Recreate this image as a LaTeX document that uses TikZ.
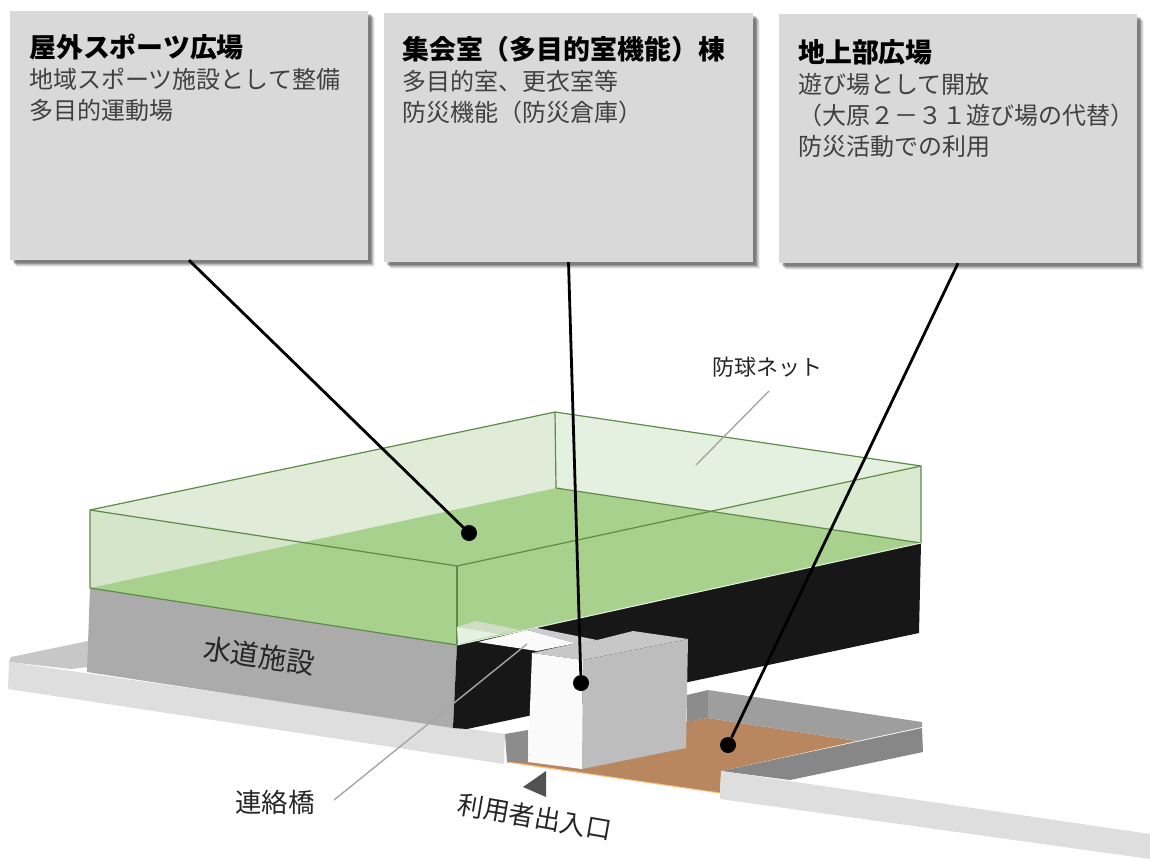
\documentclass[tikz,border=0pt]{standalone}
\usepackage{fontspec}
\setmainfont{Noto Sans CJK JP}
\usetikzlibrary{shadows}
\definecolor{panelgray}{HTML}{D9D9D9}
\definecolor{floorgreen}{HTML}{A9D18E}
\definecolor{netedge}{HTML}{5F8A4A}
\definecolor{netback}{HTML}{E5F1E0}
\definecolor{netside}{HTML}{E0EBD8}
\definecolor{plazabrown}{HTML}{B8875F}
\tikzset{
	panel/.style={fill=panelgray, minimum width=#1, minimum height=249pt, inner sep=0pt,
		general shadow={shadow xshift=7pt, shadow yshift=-7pt, fill=black, opacity=0.06},
		general shadow={shadow xshift=6pt, shadow yshift=-6pt, fill=black, opacity=0.10},
		general shadow={shadow xshift=5pt, shadow yshift=-5pt, fill=black, opacity=0.14},
		general shadow={shadow xshift=4pt, shadow yshift=-4pt, fill=black, opacity=0.18},
		general shadow={shadow xshift=3pt, shadow yshift=-3pt, fill=black, opacity=0.18}},
	paneltext/.style={anchor=north west, inner sep=0pt, align=left, text=black!75,
		font=\fontsize{24}{31}\selectfont},
	spot/.style={circle, fill=black, inner sep=0pt, minimum size=16pt},
	callout/.style={line width=2.8pt, color=black},
	leader/.style={line width=1.4pt, color=black!35},
	netline/.style={line width=1.2pt, color=netedge, line join=round},
	plainlabel/.style={inner sep=0pt, text=black!85}
}
\newcommand{\paneltitle}[1]{{\fontsize{26.9}{31}\selectfont\bfseries\color{black}#1}}
\begin{document}
\begin{tikzpicture}[x=1pt, y=-1pt]
	%%%%% START %%%%%
	\useasboundingbox (0, 0) rectangle (1150, 859);

	% panels
	\node[panel=358pt] (sportspanel) at (189, 135.5) {};
	\node[panel=369pt] (hallpanel) at (568.5, 137.5) {};
	\node[panel=358pt] (plazapanel) at (958, 138.5) {};
	\node[paneltext] at (29, 34) {\paneltitle{屋外スポーツ広場}\\地域スポーツ施設として整備\\多目的運動場};
	\node[paneltext] at (402, 36) {\paneltitle{集会室（多目的室機能）棟}\\多目的室、更衣室等\\防災機能（防災倉庫）};
	\node[paneltext] at (798, 39) {\paneltitle{地上部広場}\\遊び場として開放\\（大原２－３１遊び場の代替）\\防災活動での利用};

	% curbs round the site
	\fill[black!22] (11, 657) -- (88, 641) -- (88, 667) -- (71, 669) -- (9, 662) -- cycle;
	\fill[black!13] (9, 662) -- (505, 734) -- (504, 764) -- (8, 689) -- cycle;

	% water facility
	\fill[black!33] (90, 588) -- (457, 645) -- (453, 728) -- (87, 672) -- cycle;
	\fill[black!91] (457, 645) -- (921, 543) -- (919, 633) -- (467, 729) -- (453, 728) -- cycle;

	% sunken plaza
	\fill[plazabrown] (507, 762) -- (540, 750) -- (640, 730) -- (708, 718) -- (857, 741) -- (721, 771) -- (720, 793) -- cycle;
	\draw[line width=1pt, color=orange!50] (507, 762) -- (720, 793);
	\fill[black!45] (505, 734) -- (528, 730) -- (528, 762) -- (507, 762) -- cycle;
	\fill[black!45] (687, 695) -- (708, 690) -- (708, 718) -- (687, 722) -- cycle;
	\fill[black!38] (708, 690) -- (922, 722) -- (922, 727) -- (857, 741) -- (708, 718) -- cycle;
	\fill[black!47] (922, 728) -- (923, 752) -- (790, 780) -- (721, 771) -- cycle;
	\fill[black!13] (721, 771) -- (1150, 834) -- (1150, 859) -- (720, 799) -- cycle;

	% sports ground and ball net
	\fill[netside] (90, 510) -- (555, 412) -- (556, 488) -- (90, 588) -- cycle;
	\fill[netback] (555, 412) -- (921, 466) -- (921, 543) -- (556, 488) -- cycle;
	\fill[floorgreen] (90, 588) -- (556, 488) -- (921, 543) -- (457, 645) -- cycle;
	\fill[floorgreen, opacity=0.2] (90, 510) -- (457, 566) -- (457, 645) -- (90, 588) -- cycle;
	\fill[floorgreen, opacity=0.2] (457, 566) -- (921, 466) -- (921, 543) -- (457, 645) -- cycle;
	\draw[netline] (90, 588) -- (90, 510) -- (555, 412) -- (921, 466) -- (921, 543);
	\draw[netline] (90, 510) -- (457, 566) -- (921, 466);
	\draw[netline] (457, 566) -- (457, 645);
	\draw[netline] (555, 412) -- (556, 488) -- (921, 543);
	\draw[netline] (90, 588) -- (457, 645);
	\draw[line width=1pt, color=netback] (457, 645) -- (921, 543);

	% bridge
	\fill[black!14!floorgreen!45] (457, 627) -- (476, 621) -- (520, 630) -- (500, 634) -- cycle;
	\fill[netback] (457, 627) -- (500, 634) -- (458, 644) -- cycle;
	\fill[black!2] (478, 642) -- (527, 630) -- (577, 643) -- (537, 651) -- cycle;
	\fill[black!20] (520, 630) -- (537, 628) -- (597, 640) -- (577, 644) -- (527, 630) -- cycle;

	% hall
	\fill[black!22] (532, 653) -- (577, 643) -- (597, 640) -- (633, 631) -- (688, 639) -- (583, 660) -- cycle;
	\fill[black!2] (532, 653) -- (583, 660) -- (582, 769) -- (528, 762) -- cycle;
	\fill[black!26] (583, 660) -- (688, 639) -- (686, 748) -- (582, 769) -- cycle;
	\fill[black!68] (546, 771) -- (546, 797) -- (523, 787) -- cycle;

	% labels
	\node[plainlabel, font=\fontsize{22}{26}\selectfont] (netlabel) at (767, 367) {防球ネット};
	\node[plainlabel, font=\fontsize{26.5}{30}\selectfont] (bridgelabel) at (275, 802) {連絡橋};
	\node[plainlabel, font=\fontsize{28}{30}\selectfont, rotate=-8] (waterlabel) at (259, 656) {水道施設};
	\node[plainlabel, font=\fontsize{26}{30}\selectfont, rotate=-10] (entrylabel) at (535, 817) {利用者出入口};

	% leaders
	\coordinate (netstart) at (769, 391);
	\coordinate (netend) at (696, 465);
	\coordinate (bridgestart) at (334, 800);
	\coordinate (bridgeend) at (527, 644);
	\draw[leader] (netstart) -- (netend);
	\draw[leader] (bridgestart) -- (bridgeend);

	% callouts
	\node[spot] (sportsspot) at (469, 533) {};
	\node[spot] (hallspot) at (581, 683) {};
	\node[spot] (plazaspot) at (728, 745) {};
	\draw[callout] (sportspanel.south) -- (sportsspot);
	\draw[callout] (hallpanel.south) -- (hallspot);
	\draw[callout] (plazapanel.south) -- (plazaspot);
	%%%%% END %%%%%
\end{tikzpicture}
\end{document}
